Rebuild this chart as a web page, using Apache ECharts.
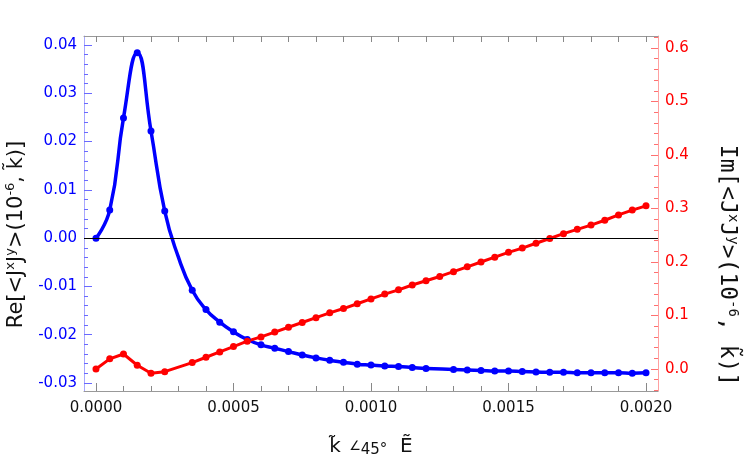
<!DOCTYPE html>
<html>
<head>
<meta charset="utf-8">
<script src="https://cdn.jsdelivr.net/npm/echarts@6.0.0/dist/echarts.min.js"></script>
<style>
  html, body { margin: 0; padding: 0; background: #fff; }
  #chart { width: 747px; height: 464px; }
</style>
</head>
<body>
<div id="chart"></div>
<script>
// Re part (blue, left axis); 0.0003 is a curve point without a dot
var reX = [0, 0.00005, 0.0001, 0.00015, 0.0002, 0.00025, 0.0003, 0.00035, 0.0004, 0.00045, 0.0005,
  0.00055, 0.0006, 0.00065, 0.0007, 0.00075, 0.0008, 0.00085, 0.0009, 0.00095, 0.001,
  0.00105, 0.0011, 0.00115, 0.0012, 0.0013, 0.00135, 0.0014, 0.00145, 0.0015, 0.00155,
  0.0016, 0.00165, 0.0017, 0.00175, 0.0018, 0.00185, 0.0019, 0.00195, 0.002];
var reY = [0.0000, 0.0058, 0.0249, 0.0384, 0.0222, 0.0056, -0.0040, -0.0108, -0.0148, -0.0174, -0.0194,
  -0.0210, -0.0221, -0.0228, -0.0235, -0.0242, -0.0248, -0.0253, -0.0257, -0.0261, -0.0263,
  -0.0265, -0.0266, -0.0268, -0.0270, -0.0272, -0.0273, -0.0274, -0.0275, -0.0275, -0.0276,
  -0.0277, -0.0278, -0.0278, -0.0279, -0.0279, -0.0279, -0.0279, -0.0280, -0.0279];
var reNoDot = [0.0003];

// Im part (red, right axis)
var imX = [0, 0.00005, 0.0001, 0.00015, 0.0002, 0.00025, 0.00035, 0.0004, 0.00045, 0.0005,
  0.00055, 0.0006, 0.00065, 0.0007, 0.00075, 0.0008, 0.00085, 0.0009, 0.00095, 0.001,
  0.00105, 0.0011, 0.00115, 0.0012, 0.00125, 0.0013, 0.00135, 0.0014, 0.00145, 0.0015,
  0.00155, 0.0016, 0.00165, 0.0017, 0.00175, 0.0018, 0.00185, 0.0019, 0.00195, 0.002];
var imY = [0.000, 0.019, 0.028, 0.007, -0.008, -0.005, 0.012, 0.022, 0.032, 0.042,
  0.052, 0.060, 0.069, 0.078, 0.087, 0.096, 0.105, 0.113, 0.122, 0.131,
  0.140, 0.148, 0.157, 0.165, 0.173, 0.182, 0.191, 0.200, 0.209, 0.218,
  0.226, 0.235, 0.244, 0.253, 0.261, 0.269, 0.278, 0.288, 0.297, 0.305];

// tick labels
var xTicks = [0, 0.0005, 0.001, 0.0015, 0.002];
var leftTicks = [-0.03, -0.02, -0.01, 0, 0.01, 0.02, 0.03, 0.04];
var rightTicks = [0, 0.1, 0.2, 0.3, 0.4, 0.5, 0.6];

function steps(a, b, d) {
  var out = [];
  for (var v = a; v <= b + d / 2; v += d) out.push(Math.round(v * 1e6) / 1e6);
  return out;
}
var xMinor = steps(0, 0.002, 0.0001);
var leftMinor = steps(-0.03, 0.04, 0.002);
var rightMinor = steps(-0.04, 0.62, 0.02);

var xMin = -0.0000436, xMax = 0.0020436;
var lMin = -0.03166, lMax = 0.04186;
var rMin = -0.0411, rMax = 0.6224;

var chart = echarts.init(document.getElementById('chart'));

function tickAxis(pos, min, max, values, len, color) {
  return {
    type: 'value', position: pos, min: min, max: max,
    axisLine: { show: false, onZero: false },
    splitLine: { show: false },
    axisLabel: { show: false },
    axisTick: { show: true, inside: true, length: len, customValues: values,
      lineStyle: { color: color, width: 1 } }
  };
}

var reData = reX.map(function (x, i) {
  if (reNoDot.indexOf(x) >= 0) return { value: [x, reY[i]], symbol: 'none' };
  return [x, reY[i]];
});
var imData = imX.map(function (x, i) { return [x, imY[i]]; });

var option = {
  animation: false,
  grid: { left: 84, right: 89, top: 36, bottom: 73, containLabel: false, outerBoundsMode: 'none' },
  xAxis: [
    {
      type: 'value', position: 'bottom', min: xMin, max: xMax,
      axisLine: { show: true, onZero: false, lineStyle: { color: '#999', width: 1 } },
      splitLine: { show: false },
      axisTick: { show: true, inside: true, length: 8, customValues: xTicks,
        lineStyle: { color: '#888' } },
      axisLabel: { customValues: xTicks, margin: 10, color: '#111',
        fontFamily: 'DejaVu Sans', fontSize: 15,
        formatter: function (v) { return v.toFixed(4); } },
      name: '{k|k\u0303}{a|  \u2220}{d|45\u00b0}{k|  E\u0303}',
      nameLocation: 'middle', nameGap: 45,
      nameTextStyle: {
        rich: {
          k: { fontFamily: 'DejaVu Sans', fontSize: 20, color: '#111' },
          a: { fontFamily: 'DejaVu Sans', fontSize: 13, color: '#111' },
          d: { fontFamily: 'DejaVu Sans', fontSize: 15, color: '#111', padding: [7, 0, 0, 0] }
        }
      }
    },
    tickAxis('bottom', xMin, xMax, xMinor, 5, '#888'),
    {
      type: 'value', position: 'top', min: xMin, max: xMax,
      axisLine: { show: true, onZero: false, lineStyle: { color: '#999', width: 1 } },
      splitLine: { show: false },
      axisLabel: { show: false },
      axisTick: { show: true, inside: true, length: 6, customValues: xMinor,
        lineStyle: { color: '#888' } }
    }
  ],
  yAxis: [
    {
      type: 'value', position: 'left', min: lMin, max: lMax,
      axisLine: { show: true, onZero: false, lineStyle: { color: '#a8a8ff', width: 1 } },
      splitLine: { show: false },
      axisTick: { show: true, inside: true, length: 8, customValues: leftTicks,
        lineStyle: { color: '#6a6aff' } },
      axisLabel: { customValues: leftTicks, margin: 7, color: '#0000ff',
        fontFamily: 'DejaVu Sans', fontSize: 15,
        formatter: function (v) { return v.toFixed(2); } },
      name: '{a|Re[<J}{s|x}{a|J}{s|y}{a|>(10}{s|-6}{a|, k\u0303)]}',
      nameLocation: 'middle', nameRotate: 90, nameGap: 53,
      nameTextStyle: {
        padding: [0, 42, 0, 0],
        rich: {
          a: { fontFamily: 'DejaVu Sans', fontSize: 21, color: '#111' },
          s: { fontFamily: 'DejaVu Sans', fontSize: 13, color: '#111', padding: [0, 0, 13, 0] }
        }
      }
    },
    tickAxis('left', lMin, lMax, leftMinor, 4, '#6a6aff'),
    {
      type: 'value', position: 'right', min: rMin, max: rMax,
      axisLine: { show: true, onZero: false, lineStyle: { color: '#ffa0a0', width: 1 } },
      splitLine: { show: false },
      axisTick: { show: true, inside: true, length: 7, customValues: rightTicks,
        lineStyle: { color: '#ff7070' } },
      axisLabel: { customValues: rightTicks, margin: 7, color: '#ff0000',
        fontFamily: 'DejaVu Sans', fontSize: 15,
        formatter: function (v) { return v.toFixed(1); } },
      name: '{a|Im[<J}{s|x}{a|J}{s|y}{a|>(10}{s|-6}{a|, k\u0303)]}',
      nameLocation: 'middle', nameRotate: -90, nameGap: 55,
      nameTextStyle: {
        padding: [0, 0, 0, 104],
        rich: {
          a: { fontFamily: 'DejaVu Sans Mono', fontSize: 23, color: '#111' },
          s: { fontFamily: 'DejaVu Sans Mono', fontSize: 14, color: '#111', padding: [0, 0, 13, 0] }
        }
      }
    },
    tickAxis('right', rMin, rMax, rightMinor, 4, '#ff7070')
  ],
  series: [
    {
      type: 'line', xAxisIndex: 0, yAxisIndex: 0,
      data: reData,
      smooth: true,
      symbol: 'circle', symbolSize: 7,
      itemStyle: { color: '#0000ff' },
      lineStyle: { color: '#0000ff', width: 3.5 },
      markLine: {
        silent: true, symbol: 'none', animation: false,
        label: { show: false },
        lineStyle: { color: '#000', width: 1, type: 'solid' },
        data: [{ yAxis: 0 }]
      }
    },
    {
      type: 'line', xAxisIndex: 0, yAxisIndex: 2,
      data: imData,
      symbol: 'circle', symbolSize: 7,
      itemStyle: { color: '#ff0000' },
      lineStyle: { color: '#ff0000', width: 3 }
    }
  ]
};

chart.setOption(option);
</script>
</body>
</html>
